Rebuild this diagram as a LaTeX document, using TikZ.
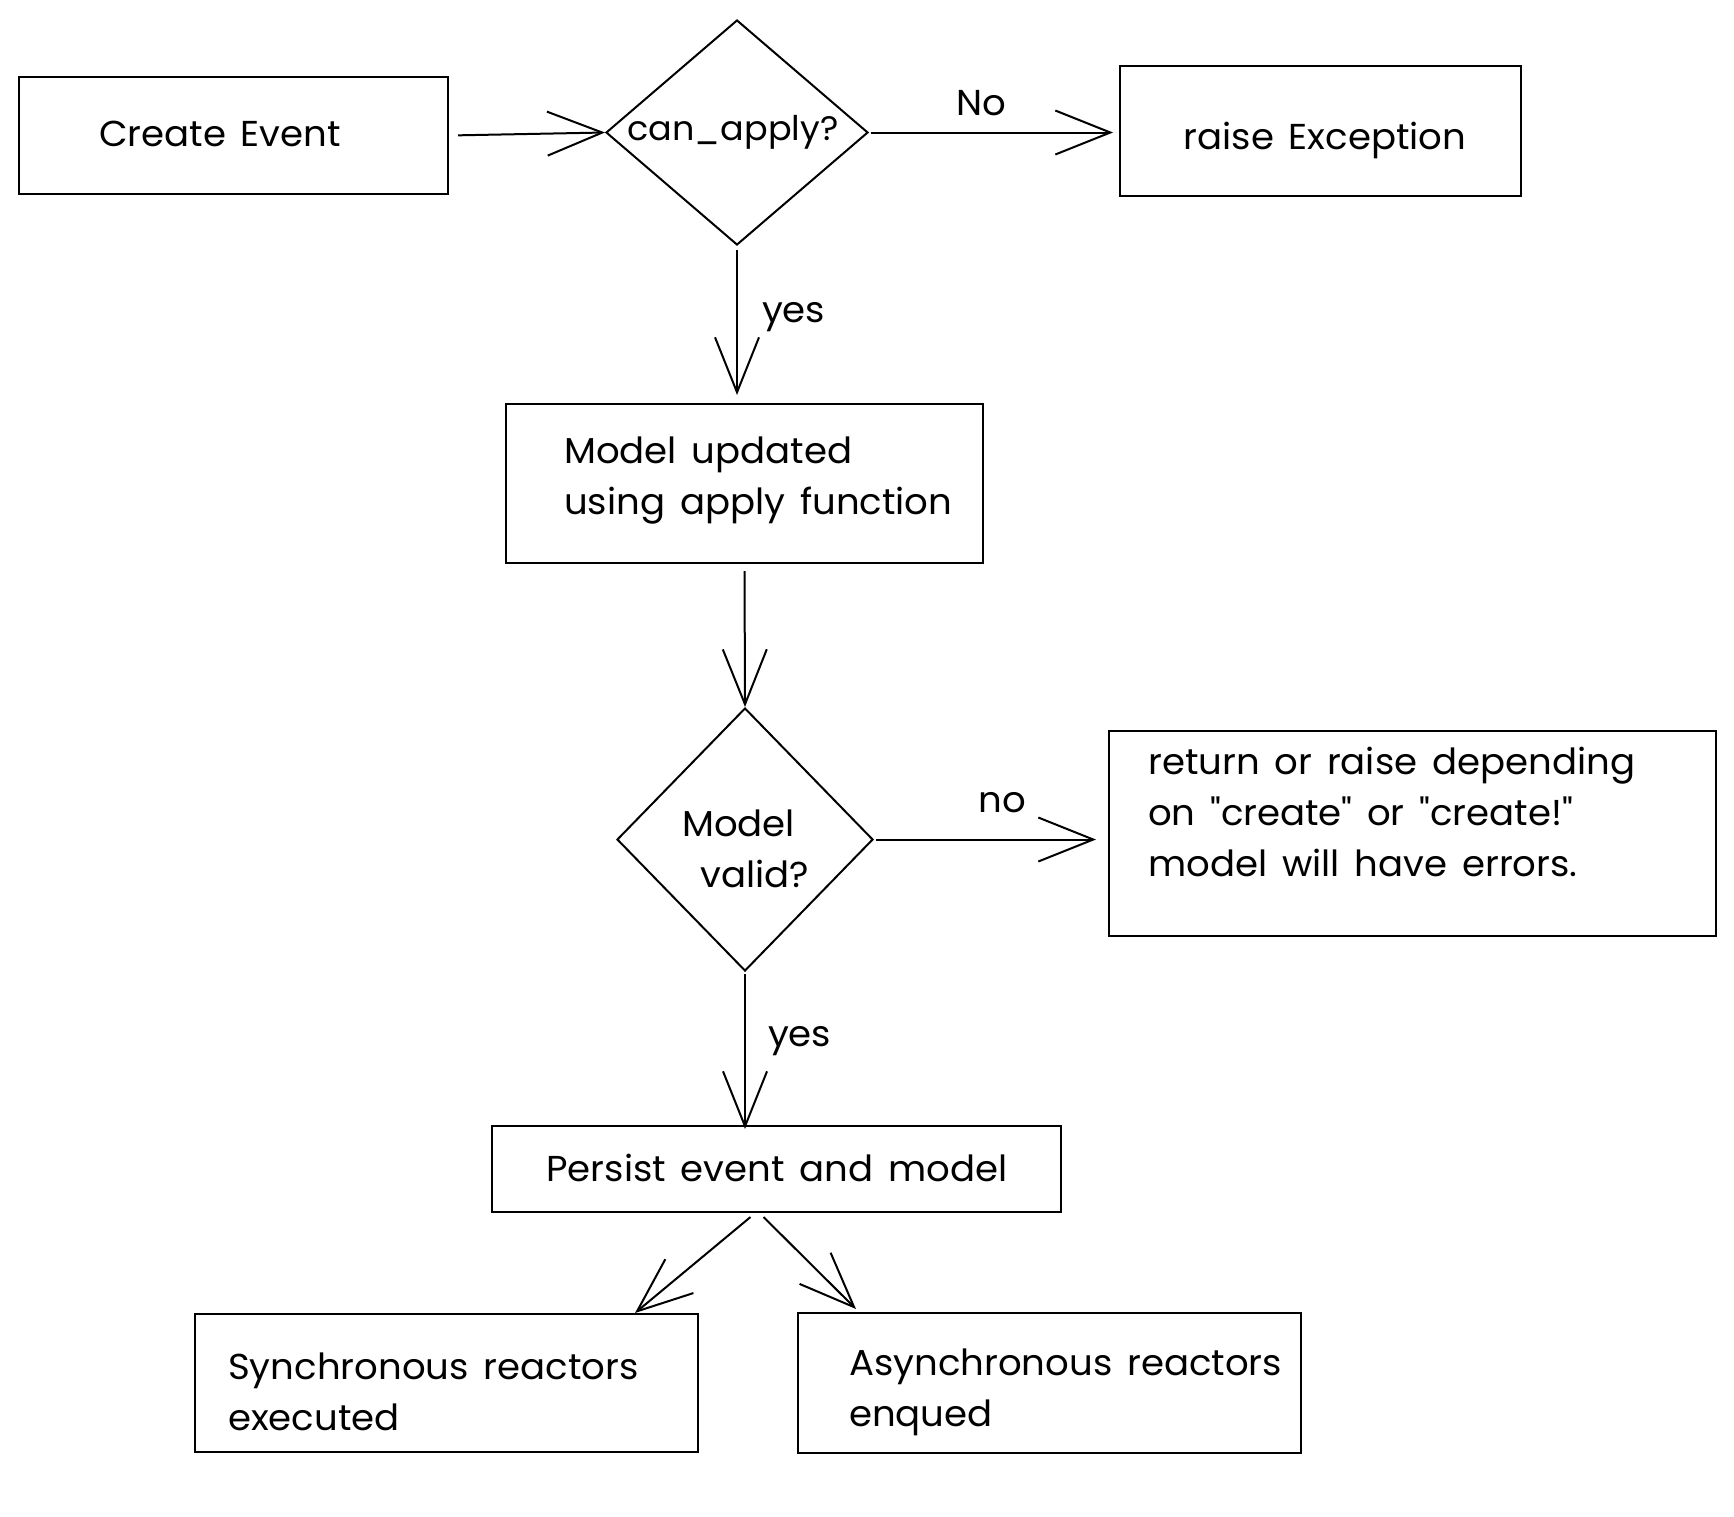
\documentclass[tikz,border=0pt]{standalone}
\usepackage{fontspec}
\setmainfont{Poppins}[FakeStretch=1.03,WordSpace=1.5]
\usetikzlibrary{arrows.meta,shapes.geometric,calc}
\begin{document}
\begin{tikzpicture}[x=1pt,y=-1pt,
  box/.style={draw=black,line width=2pt,rectangle,inner sep=0pt},
  dia/.style={draw=black,line width=2pt,diamond,inner sep=0pt},
  lbl/.style={inner sep=0pt,font=\fontsize{36}{51}\selectfont},
  txt/.style={inner sep=0pt,font=\fontsize{36}{51}\selectfont,align=left},
  arr/.style={line width=2pt,-{Straight Barb[length=55pt,width=44pt,line width=2pt]}}
]
\useasboundingbox[fill=white] (0,0) rectangle (1734,1516);
% boxes
\node[box,minimum width=429pt,minimum height=117pt] (ce) at (233.5,135.5) {};
\node[box,minimum width=401pt,minimum height=130pt] (re) at (1320.5,131) {};
\node[box,minimum width=477pt,minimum height=159pt] (mu) at (744.5,483.5) {};
\node[box,minimum width=607pt,minimum height=205pt] (ret) at (1412.5,833.5) {};
\node[box,minimum width=569pt,minimum height=86pt] (pe) at (776.5,1169) {};
\node[box,minimum width=503pt,minimum height=138pt] (sy) at (446.5,1383) {};
\node[box,minimum width=503pt,minimum height=140pt] (as) at (1049.5,1383) {};
% diamonds
\node[dia,minimum width=262pt,minimum height=225pt] (cand) at (737,132.5) {};
\node[dia,minimum width=256pt,minimum height=263pt] (mv) at (745,839.5) {};
% texts
\node[lbl] (tce) at (220,134) {Create Event};
\node[lbl,font=\fontsize{34}{51}\selectfont] (tcand) at (733,132) {can\_apply?};
\node[lbl] (tre) at (1325,140) {raise Exception};
\node[txt,anchor=west] (tmu) at (564,481) {Model updated\\using apply function};
\node[txt,anchor=west] (tmv) at (682,849) {Model\\\hspace*{18pt}valid?};
\node[txt,anchor=west] (tret) at (1148,812) {return or raise depending\\on \textquotedbl create\textquotedbl{} or \textquotedbl create!\textquotedbl\\model will have errors.};
\node[lbl] (tpe) at (777,1168) {Persist event and model};
\node[txt,anchor=west] (tsy) at (228,1392) {Synchronous reactors\\executed};
\node[txt,anchor=west] (tas) at (849,1392) {Asynchronous reactors\\enqued};
% connectors
\draw[arr,shorten <=9pt] (ce.east) -- (cand.west);
\draw[arr,shorten <=2pt,shorten >=6pt] (cand.east) -- (cand.east -| re.west) node[lbl,pos=0.45,above=16pt] (lno) {No};
\draw[arr,shorten <=4pt,shorten >=8pt] (cand.south) -- (cand.south |- mu.north) node[lbl,pos=0.45,right=24pt] (lyes1) {yes};
\draw[arr,shorten <=7pt] (mu.south) -- (mv.north);
\draw[arr,shorten <=2pt,shorten >=12pt] (mv.east) -- (mv.east -| ret.west) node[lbl,pos=0.55,above=26pt] (lno2) {no};
\draw[arr,shorten <=2pt,shorten >=-4pt] (mv.south) -- (mv.south |- pe.north) node[lbl,pos=0.45,right=22pt] (lyes2) {yes};
\draw[arr] ([xshift=-26pt,yshift=-4pt]pe.south) -- ([xshift=-64pt]sy.north east);
\draw[arr] ([xshift=-13pt,yshift=-4pt]pe.south) -- ([xshift=59pt,yshift=3pt]as.north west);
\end{tikzpicture}
\end{document}
